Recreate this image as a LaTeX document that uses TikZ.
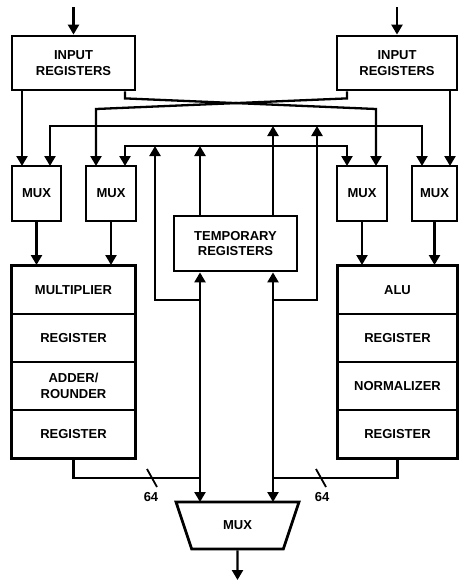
\documentclass[tikz,border=0pt]{standalone}
\usepackage{fontspec}
\setmainfont{Liberation Sans}
\usetikzlibrary{arrows.meta, shapes.geometric, calc}

\tikzset{
  lbl/.style={font=\fontsize{13}{15.5}\selectfont\bfseries},
  blk/.style={draw, line width=2.8pt, align=center, inner sep=0pt, lbl},
  stage/.style={draw, line width=2pt, align=center, inner sep=0pt, lbl,
    minimum height=48pt},
  omuxbox/.style={draw, line width=2.8pt, lbl, trapezium, shape border rotate=180,
    trapezium stretches=true, trapezium angle=61.5,
    minimum width=123pt, minimum height=47pt, inner sep=0pt},
  bus/.style={line width=2.3pt},
  arr/.style={bus, -{Triangle[length=10pt,width=11pt]}},
  biarr/.style={bus, {Triangle[length=10pt,width=11pt]}-{Triangle[length=10pt,width=11pt]}},
  slash/.style={line width=1.8pt},
}

\begin{document}
\begin{tikzpicture}[x=1pt, y=-1pt]
\useasboundingbox (0,0) rectangle (459,581);

% Input registers
\node[blk, minimum width=123pt, minimum height=54pt] (inL) at (73.5,63) {INPUT\\REGISTERS};
\node[blk, minimum width=120pt, minimum height=54pt] (inR) at (397,63) {INPUT\\REGISTERS};
\coordinate (inLsrc) at (73.5,7);
\coordinate (inRsrc) at (397,7);
\draw[arr] (inLsrc) -- (inL.north);
\draw[arr] (inRsrc) -- (inR.north);

% Multiplexers
\node[blk, minimum width=49pt, minimum height=55pt] (muxA) at (36.5,193.5) {MUX};
\node[blk, minimum width=50pt, minimum height=55pt] (muxB) at (111,193.5) {MUX};
\node[blk, minimum width=50pt, minimum height=55pt] (muxC) at (362,193.5) {MUX};
\node[blk, minimum width=45pt, minimum height=55pt] (muxD) at (434.5,193.5) {MUX};

% mux inputs
\coordinate (a1) at (22,166);  \coordinate (a2) at (50,166);
\coordinate (b1) at (96,166);  \coordinate (b2) at (125,166);
\coordinate (c1) at (347,166); \coordinate (c2) at (376,166);
\coordinate (d1) at (422,166); \coordinate (d2) at (450,166);
\coordinate (busC) at (0,126);
\coordinate (busD) at (0,146);

% Left stack
\node[stage, minimum width=123pt] (mult) at (73.5,290) {MULTIPLIER};
\node[stage, minimum width=123pt] (regA) at (73.5,338) {REGISTER};
\node[stage, minimum width=123pt] (add)  at (73.5,386) {ADDER/\\ROUNDER};
\node[stage, minimum width=123pt] (regB) at (73.5,434) {REGISTER};
\draw[line width=2.8pt] (mult.north west) rectangle (regB.south east);

% Right stack
\node[stage, minimum width=119pt] (alu)  at (397.5,290) {ALU};
\node[stage, minimum width=119pt] (regC) at (397.5,338) {REGISTER};
\node[stage, minimum width=119pt] (norm) at (397.5,386) {NORMALIZER};
\node[stage, minimum width=119pt] (regD) at (397.5,434) {REGISTER};
\draw[line width=2.8pt] (alu.north west) rectangle (regD.south east);

% Temporary registers and output mux
\node[blk, minimum width=123pt, minimum height=55pt] (tmp) at (235.5,243.5) {TEMPORARY\\REGISTERS};
\node[omuxbox] (omux) at (237.5,525.5) {MUX};
\coordinate (t1) at (200,502);
\coordinate (t2) at (273,502);
\coordinate (loopL) at (155,300);
\coordinate (loopR) at (317,300);
\coordinate (join) at (0,478);
\coordinate (out) at (237.5,580);

% direct inputs
\draw[arr] (inL.south -| a1) -- (a1);
\draw[arr] (inR.south -| d2) -- (d2);
% crossed inputs
\draw[arr] (inL.south -| b2) -- +(0,7) -- ($(c2)+(0,-57)$) -- (c2);
\draw[arr] (inR.south -| c1) -- +(0,7) -- ($(b1)+(0,-57)$) -- (b1);
% feedback buses
\draw[biarr] (a2) -- (a2 |- busC) -- (d1 |- busC) -- (d1);
\draw[biarr] (b2) -- (b2 |- busD) -- (c1 |- busD) -- (c1);

% mux outputs
\draw[arr] (muxA.south) -- (mult.north -| muxA.south);
\draw[arr] (muxB.south) -- (mult.north -| muxB.south);
\draw[arr] (muxC.south) -- (alu.north -| muxC.south);
\draw[arr] (muxD.south) -- (alu.north -| muxD.south);

% temporary registers
\draw[arr] (tmp.north -| t1) -- (t1 |- busD);
\draw[arr] (tmp.north -| t2) -- (t2 |- busC);
\draw[arr] (t1 |- loopL) -- (loopL) -- (loopL |- busD);
\draw[arr] (t2 |- loopR) -- (loopR) -- (loopR |- busC);
\draw[biarr] (tmp.south -| t1) -- (t1);
\draw[biarr] (tmp.south -| t2) -- (t2);

% result buses
\draw[bus] (regB.south) -- (regB.south |- join) -- (t1 |- join);
\draw[bus] (regD.south) -- (regD.south |- join) -- (t2 |- join);
\draw[slash] (147,469) -- (157,487);
\draw[slash] (316,469) -- (326,487);
\node[lbl] (wL) at (151,497) {64};
\node[lbl] (wR) at (322,497) {64};

\draw[arr] (omux.south) -- (out);
\end{tikzpicture}
\end{document}
